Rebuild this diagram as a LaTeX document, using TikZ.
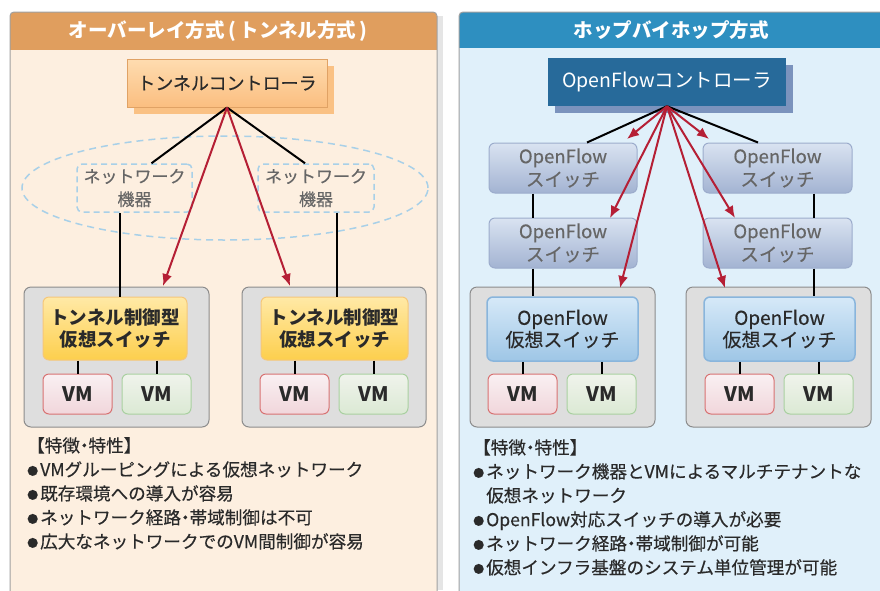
\documentclass[tikz,border=0pt]{standalone}
\usepackage{fontspec}
\setmainfont{Noto Sans CJK JP}
\newfontfamily\medfont{Noto Sans CJK JP}[FakeBold=0.4]
\usetikzlibrary{arrows.meta,shapes.geometric,calc}
\definecolor{lhead}{HTML}{E09E5E}
\definecolor{lbody}{HTML}{FDEFE0}
\definecolor{rhead}{HTML}{2E8FC0}
\definecolor{rbody}{HTML}{E0F0FA}
\definecolor{pborder}{HTML}{A0A0A0}
\definecolor{redarrow}{HTML}{B51F35}
\definecolor{dashblue}{HTML}{A8D0E8}
\definecolor{hostfill}{HTML}{DEDEDE}
\definecolor{hostdraw}{HTML}{8C8C8C}
\definecolor{txtdark}{HTML}{2A2A2A}
\definecolor{txtgray}{HTML}{666666}
\definecolor{cLtop}{HTML}{FEDCB0}
\definecolor{cLbot}{HTML}{FBBE80}
\definecolor{cLdraw}{HTML}{E0A265}
\definecolor{cLsh}{HTML}{FAC184}
\definecolor{cRfill}{HTML}{276A9A}
\definecolor{cRsh}{HTML}{7B93BD}
\definecolor{ysTop}{HTML}{FFE9A6}
\definecolor{ysBot}{HTML}{FDCF4D}
\definecolor{ysDraw}{HTML}{F5C77A}
\definecolor{ofTop}{HTML}{D9E3F1}
\definecolor{ofBot}{HTML}{A3B3D2}
\definecolor{ofDraw}{HTML}{9CACCC}
\definecolor{vsTop}{HTML}{D6E9F8}
\definecolor{vsBot}{HTML}{9EC6E6}
\definecolor{vsDraw}{HTML}{89B5DC}
\definecolor{vrTop}{HTML}{F9F0F2}
\definecolor{vrBot}{HTML}{F1D6DB}
\definecolor{vrDraw}{HTML}{D87272}
\definecolor{vgTop}{HTML}{F0F3EC}
\definecolor{vgBot}{HTML}{DBE9D4}
\definecolor{vgDraw}{HTML}{A9D0A0}
\newcommand{\bul}{\makebox[13pt][l]{\raisebox{1pt}{\fontsize{11}{11}\selectfont ●}}}
\newcommand{\mdot}{\kern-4.5pt・\kern-4.5pt}
\tikzset{
  x=1pt, y=-1pt,
  every node/.style={inner sep=0pt, font=\fontsize{17}{22}\selectfont, text=txtdark},
  ctrlLbox/.style={rectangle, minimum width=200pt, minimum height=48pt,
    top color=cLtop, bottom color=cLbot, draw=cLdraw, line width=1pt,
    font=\fontsize{18}{22}\selectfont\medfont},
  ctrlLshadow/.style={rectangle, minimum width=200pt, minimum height=48pt, fill=cLsh},
  ctrlRbox/.style={rectangle, minimum width=238pt, minimum height=48pt, fill=cRfill, text=white,
    font=\fontsize{19.5}{22}\selectfont},
  ctrlRshadow/.style={rectangle, minimum width=238pt, minimum height=48pt, fill=cRsh},
  netbox/.style={rectangle, rounded corners=5pt, draw=dashblue, line width=1.5pt,
    dash pattern=on 6pt off 4pt, minimum height=48pt, align=center, text=txtgray,
    font=\fontsize{17}{23}\selectfont\medfont},
  host/.style={rectangle, rounded corners=7pt, fill=hostfill, draw=hostdraw, line width=1pt,
    minimum width=185pt, minimum height=140pt},
  yswitch/.style={rectangle, rounded corners=6pt, minimum height=63pt, align=center,
    top color=ysTop, bottom color=ysBot, draw=ysDraw, line width=1pt,
    font=\fontsize{18.5}{22}\selectfont\bfseries},
  ofswitch/.style={rectangle, rounded corners=6pt, minimum width=148pt, minimum height=50pt, align=center,
    top color=ofTop, bottom color=ofBot, draw=ofDraw, line width=1pt, text=txtgray,
    font=\fontsize{18.5}{23}\selectfont\medfont},
  vswitch/.style={rectangle, rounded corners=6pt, minimum width=151pt, minimum height=64pt, align=center,
    top color=vsTop, bottom color=vsBot, draw=vsDraw, line width=1.5pt,
    font=\fontsize{19}{22}\selectfont\medfont},
  vmred/.style={rectangle, rounded corners=6pt, minimum width=69pt, minimum height=40pt,
    top color=vrTop, bottom color=vrBot, draw=vrDraw, line width=1pt,
    font=\fontsize{20}{20}\selectfont\bfseries},
  vmgreen/.style={rectangle, rounded corners=6pt, minimum width=69pt, minimum height=40pt,
    top color=vgTop, bottom color=vgBot, draw=vgDraw, line width=1pt,
    font=\fontsize{20}{20}\selectfont\bfseries},
  blk/.style={draw=black, line width=2pt},
  redarr/.style={draw=redarrow, line width=2pt, -{Latex[length=12pt,width=10pt]}},
  title/.style={text=white, font=\fontsize{19.5}{20}\selectfont\bfseries},
  feat/.style={align=left, anchor=north west, font=\fontsize{17.6}{24}\selectfont\medfont, text=txtdark}
}
\begin{document}
\begin{tikzpicture}
\useasboundingbox (0,0) rectangle (880,590);
\begin{scope}
\clip (0,0) rectangle (880,590);
\fill[white] (0,0) rectangle (880,590);
\fill[black!10] (437,16) rectangle (443,590);
% left panel
\begin{scope}
\clip[rounded corners=4pt] (10,12) rectangle (437,620);
\fill[lbody] (10,12) rectangle (437,620);
\fill[lhead] (10,12) rectangle (437,50);
\end{scope}
\draw[pborder, line width=1pt, rounded corners=4pt] (10,12) rectangle (437,620);
% right panel
\begin{scope}
\clip[rounded corners=4pt] (459,12) rectangle (900,620);
\fill[rbody] (459,12) rectangle (900,620);
\fill[rhead] (459,12) rectangle (900,48);
\end{scope}
\draw[pborder, line width=1pt, rounded corners=4pt] (459,12) rectangle (900,620);
\end{scope}

\node[title] (tL) at (218,31) {オーバーレイ方式\kern4pt(\kern3pt トンネル方式\kern3pt)};
\node[title] (tR) at (671,30) {ホップバイホップ方式};

% ---------- left diagram ----------
\node[draw=dashblue, dash pattern=on 7pt off 5pt, line width=1.5pt, ellipse,
      minimum width=406pt, minimum height=104pt] (cloud) at (225,188) {};
\node[netbox, minimum width=115pt] (netL) at (134.5,188) {ネットワーク\\機器};
\node[netbox, minimum width=116pt] (netR) at (316,188) {ネットワーク\\機器};

\node[host] (hostL) at (116.5,357) {};
\node[host, minimum width=184pt] (hostR) at (334,357) {};
\node[yswitch, minimum width=144pt] (swL) at (115,328.5) {トンネル制御型\\仮想スイッチ};
\node[yswitch, minimum width=147pt] (swR) at (334.5,328.5) {トンネル制御型\\仮想スイッチ};
\node[vmred] (vmL1) at (77.5,394) {VM};
\node[vmgreen] (vmL2) at (156.5,394) {VM};
\node[vmred] (vmR1) at (294.5,394) {VM};
\node[vmgreen] (vmR2) at (373.5,394) {VM};

\node[ctrlLshadow] (ctrlLsh) at (234,90) {};
\node[ctrlLbox] (ctrlL) at (227,83) {トンネルコントローラ};

\draw[blk] (ctrlL.south) -- ([xshift=17pt]netL.north);
\draw[blk] (ctrlL.south) -- ([xshift=-11pt]netR.north);
\draw[blk] ([xshift=-14.5pt]netL.south) -- ([xshift=-14.5pt]netL.south |- swL.north);
\draw[blk] ([xshift=21pt]netR.south) -- ([xshift=21pt]netR.south |- swR.north);
\draw[blk] (vmL1.north |- swL.south) -- (vmL1.north);
\draw[blk] (vmL2.north |- swL.south) -- (vmL2.north);
\draw[blk] (vmR1.north |- swR.south) -- (vmR1.north);
\draw[blk] (vmR2.north |- swR.south) -- (vmR2.north);

\coordinate (aL) at (163,286);
\coordinate (aR) at (290,286);
\draw[redarr] (ctrlL.south) -- (aL);
\draw[redarr] (ctrlL.south) -- (aR);

\node[feat] (featL) at (27,437) {【特徴\mdot 特性】\\\bul VMグルーピングによる仮想ネットワーク\\\bul 既存環境への導入が容易\\\bul ネットワーク経路\mdot 帯域制御は不可\\\bul 広大なネットワークでのVM間制御が容易};

% ---------- right diagram ----------
\node[ofswitch] (of1) at (563,168) {OpenFlow\\スイッチ};
\node[ofswitch, minimum width=149pt] (of2) at (777.5,168) {OpenFlow\\スイッチ};
\node[ofswitch] (of3) at (563,243) {OpenFlow\\スイッチ};
\node[ofswitch, minimum width=149pt] (of4) at (777.5,243) {OpenFlow\\スイッチ};

\node[host] (hostL2) at (562.5,357) {};
\node[host] (hostR2) at (778.5,357) {};
\node[vswitch] (vsL) at (562.5,329) {OpenFlow\\仮想スイッチ};
\node[vswitch] (vsR) at (779.5,329) {OpenFlow\\仮想スイッチ};
\node[vmred] (vmL3) at (522.5,394) {VM};
\node[vmgreen] (vmL4) at (601.5,394) {VM};
\node[vmred] (vmR3) at (739.5,394) {VM};
\node[vmgreen] (vmR4) at (818.5,394) {VM};

\node[ctrlRshadow] (ctrlRsh) at (674,89) {};
\node[ctrlRbox] (ctrlR) at (667,82) {OpenFlowコントローラ};

\draw[blk] (ctrlR.south) -- ([xshift=24pt]of1.north);
\draw[blk] (ctrlR.south) -- ([xshift=-19.5pt]of2.north);
\draw[blk] ([xshift=-30pt]of1.south) -- ([xshift=-30pt]of3.north);
\draw[blk] ([xshift=-30pt]of3.south) -- ([xshift=-30pt]of3.south |- vsL.north);
\draw[blk] ([xshift=36.5pt]of2.south) -- ([xshift=36.5pt]of4.north);
\draw[blk] ([xshift=36.5pt]of4.south) -- ([xshift=36.5pt]of4.south |- vsR.north);
\draw[blk] (vmL3.north |- vsL.south) -- (vmL3.north);
\draw[blk] (vmL4.north |- vsL.south) -- (vmL4.north);
\draw[blk] (vmR3.north |- vsR.south) -- (vmR3.north);
\draw[blk] (vmR4.north |- vsR.south) -- (vmR4.north);

\coordinate (b1) at (627,139);
\coordinate (b2) at (610,218);
\coordinate (b3) at (620,288);
\coordinate (b4) at (709,139);
\coordinate (b5) at (735,218);
\coordinate (b6) at (725,288);
\foreach \t in {b1,b2,b3,b4,b5,b6} \draw[redarr] (ctrlR.south) -- (\t);

\node[feat] (featR) at (473,439) {【特徴\mdot 特性】\\\bul ネットワーク機器とVMによるマルチテナントな\\\hspace*{13pt}仮想ネットワーク\\\bul OpenFlow対応スイッチの導入が必要\\\bul ネットワーク経路\mdot 帯域制御が可能\\\bul 仮想インフラ基盤のシステム単位管理が可能};
\end{tikzpicture}
\end{document}
